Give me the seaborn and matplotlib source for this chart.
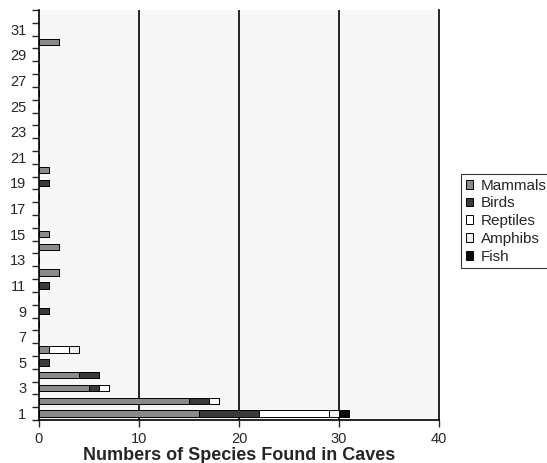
import pandas as pd
import matplotlib
matplotlib.use("Agg")
import matplotlib.pyplot as plt
import seaborn as sns
from matplotlib.patches import Patch

# cave numbers that hold at least one species, and counts per group
caves = [1, 2, 3, 4, 5, 6, 9, 11, 12, 14, 15, 19, 20, 30]
mammals = [16, 15, 5, 4, 0, 1, 0, 0, 2, 2, 1, 0, 1, 2]
birds = [6, 2, 1, 2, 1, 0, 1, 1, 0, 0, 0, 1, 0, 0]
reptiles = [7, 1, 1, 0, 0, 2, 0, 0, 0, 0, 0, 0, 0, 0]
amphibs = [1, 0, 0, 0, 0, 1, 0, 0, 0, 0, 0, 0, 0, 0]
fish = [1, 0, 0, 0, 0, 0, 0, 0, 0, 0, 0, 0, 0, 0]

groups = ["Mammals", "Birds", "Reptiles", "Amphibs", "Fish"]
colors = {"Mammals": "#8a8a8a", "Birds": "#3a3a3a", "Reptiles": "#ffffff",
          "Amphibs": "#f0f0f0", "Fish": "#0a0a0a"}
y_ticks = list(range(1, 32, 2))
x_ticks = [0, 10, 20, 30, 40]

rows = []
for name, vals in zip(groups, [mammals, birds, reptiles, amphibs, fish]):
    for c, v in zip(caves, vals):
        if v > 0:
            rows.append({"cave": c, "group": name, "count": v})
df = pd.DataFrame(rows)

sns.set_style("ticks")
plt.rcParams["font.family"] = ["Liberation Sans", "DejaVu Sans"]

fig = plt.figure(figsize=(5.47, 4.63), dpi=100)
ax = fig.add_axes([39 / 547, 1 - 420 / 463, 400 / 547, 410 / 463])
ax.set_facecolor("#f7f7f7")

# seaborn stacks the last hue level first, so pass the order reversed
sns.histplot(data=df, y="cave", weights="count", hue="group",
             hue_order=groups[::-1], multiple="stack", discrete=True,
             shrink=0.5, palette=colors, edgecolor="black", linewidth=0.7,
             alpha=1, legend=False, ax=ax)

ax.set_xlim(0, 40)
ax.set_ylim(0.5, 32.5)
ax.set_xticks(x_ticks)
ax.set_yticks(y_ticks)
ax.set_yticks([i + 0.5 for i in range(0, 33)], minor=True)
ax.tick_params(axis="y", which="major", length=0, labelsize=10.5, pad=9)
ax.tick_params(axis="y", which="minor", length=5, width=1, direction="out")
ax.tick_params(axis="x", length=5, width=1, direction="out", labelsize=10.5)

ax.set_axisbelow(True)
for xv in [10, 20, 30]:
    ax.axvline(xv, color="black", linewidth=1.2, zorder=0)

for side in ["left", "bottom", "right"]:
    ax.spines[side].set_visible(True)
    ax.spines[side].set_color("black")
    ax.spines[side].set_linewidth(1.2)
ax.spines["top"].set_visible(False)

ax.set_ylabel("")
ax.set_xlabel("Numbers of Species Found in Caves", fontsize=13,
              fontweight="bold", labelpad=1)

handles = [Patch(facecolor=colors[g], edgecolor="black", linewidth=0.7)
           for g in groups]
leg = fig.legend(handles, groups, loc="upper left",
                 bbox_to_anchor=(461 / 547, 1 - 174 / 463), fontsize=11,
                 frameon=True, fancybox=False, handlelength=0.5,
                 handleheight=0.5, handletextpad=0.5, borderpad=0.3,
                 labelspacing=0.25, borderaxespad=0)
leg.get_frame().set_edgecolor("black")
leg.get_frame().set_linewidth(0.8)

fig.savefig("out.png", dpi=100)
